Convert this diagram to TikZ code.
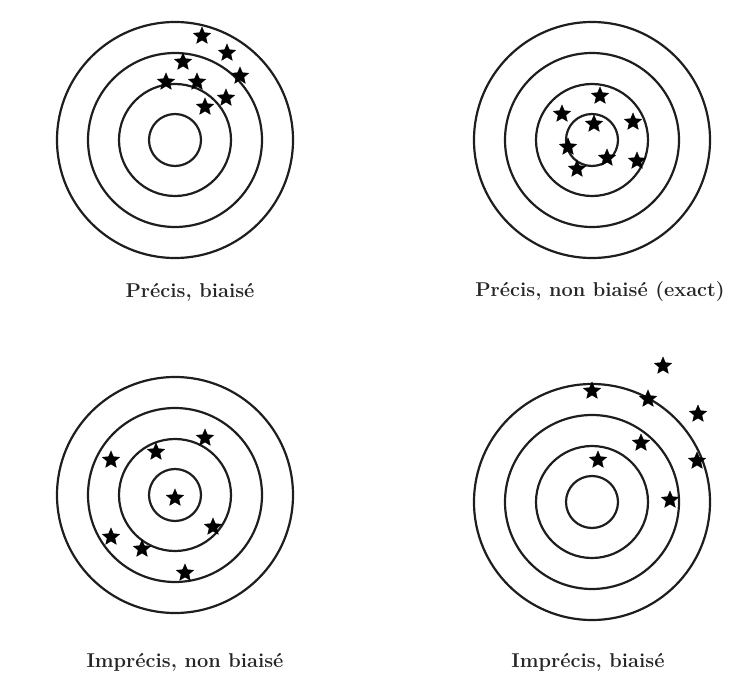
\documentclass[tikz,border=0pt]{standalone}
\usepackage{fontspec}
\usepackage{tikz}
\usetikzlibrary{shapes.geometric,positioning}
\definecolor{RingGray}{HTML}{1E1E1E}
\tikzset{
    % Ring of a target
    ringline/.style={
        draw=RingGray,
        line width=2.2pt
    },
    % Target centre
    targetcentre/.style={
        inner sep=0pt,
        minimum size=0pt
    },
    % Hit mark
    hitstar/.style={
        star,
        star points=5,
        star point ratio=2.2,
        fill=black,
        draw=black,
        inner sep=0pt,
        minimum size=18pt
    },
    % Caption under a target
    caption/.style={
        font=\fontsize{20}{23}\selectfont\bfseries,
        text=black!85,
        inner sep=1pt
    }
}
\begin{document}
\begin{tikzpicture}[x=1pt, y=-1pt]
        \useasboundingbox (0,0) rectangle (739,687);

        % Targets
        \node[targetcentre] (tl) at (175,140) {};
        \node[targetcentre] (tr) at (592,140) {};
        \node[targetcentre] (bl) at (175,495) {};
        \node[targetcentre] (br) at (592,502) {};
        \foreach \t in {tl,tr,bl,br}
            \foreach \r in {26,56,87,118}
                \draw[ringline] (\t) circle (\r pt);

        % Precise, biased
        \foreach \p [count=\i] in {(202,36),(227,53),(183,62),(240,76),(166,82),(197,82),(226,98),(205,107)}
            \node[hitstar] (tls\i) at \p {};

        % Precise, unbiased
        \foreach \p [count=\i] in {(600,96),(562,114),(594,124),(633,122),(568,147),(607,158),(637,161),(577,169)}
            \node[hitstar] (trs\i) at \p {};

        % Imprecise, unbiased
        \foreach \p [count=\i] in {(205,438),(156,452),(111,460),(175,498),(213,527),(111,537),(142,549),(185,573)}
            \node[hitstar] (bls\i) at \p {};

        % Imprecise, biased
        \foreach \p [count=\i] in {(663,366),(592,391),(648,399),(698,414),(641,443),(598,460),(697,461),(670,500)}
            \node[hitstar] (brs\i) at \p {};

        % Captions
        \node[caption] (tlcap) at (190,292) {Précis, biaisé};
        \node[caption] (trcap) at (600,292) {Précis, non biaisé (exact)};
        \node[caption] (blcap) at (185,662) {Imprécis, non biaisé};
        \node[caption] (brcap) at (588,662) {Imprécis, biaisé};
\end{tikzpicture}
\end{document}
